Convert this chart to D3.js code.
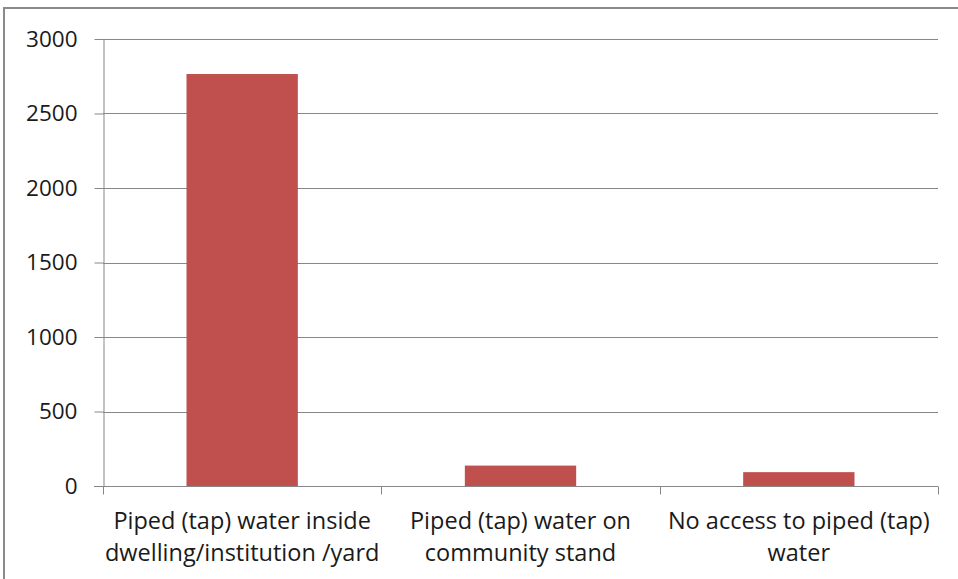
<!DOCTYPE html>
<html><head><meta charset="utf-8">
<script src="https://cdn.jsdelivr.net/npm/d3@7"></script>
<style>body{margin:0;background:#fff;}svg{display:block;}</style>
</head><body>
<svg id="c" width="958" height="579"></svg>
<script>
const categories = [
  ["Piped (tap) water inside", "dwelling/institution /yard"],
  ["Piped (tap) water on", "community stand"],
  ["No access to piped (tap)", "water"]
];
const values = [2765, 137, 93];
const yTicks = [0, 500, 1000, 1500, 2000, 2500, 3000];

const svg = d3.select("#c");
const font = "'Open Sans', 'Noto Sans', sans-serif";
const m = {left: 103, right: 20, top: 39, bottom: 93};
const x = d3.scaleBand().domain(d3.range(categories.length)).range([m.left, 938]).paddingInner(0.6).paddingOuter(0.3);
const y = d3.scaleLinear().domain([0, 3000]).range([486, 39]);

// outer frame
svg.append("path").attr("d", "M4,579 V8 H958").attr("fill", "none").attr("stroke", "#8a8a8a").attr("stroke-width", 2);

// gridlines
svg.append("g").selectAll("line").data(yTicks.filter(d => d > 0)).join("line")
  .attr("x1", m.left).attr("x2", 938).attr("y1", d => Math.round(y(d)) + 0.5).attr("y2", d => Math.round(y(d)) + 0.5)
  .attr("stroke", "#878787").attr("stroke-width", 1);

// bars
svg.append("g").selectAll("rect").data(values).join("rect")
  .attr("x", (d, i) => x(i)).attr("width", x.bandwidth())
  .attr("y", d => y(d)).attr("height", d => y(0) - y(d))
  .attr("fill", "#c0504d");

// y axis
const yAxis = svg.append("g").attr("transform", `translate(${m.left + 0.5},0)`)
  .call(d3.axisLeft(y).tickValues(yTicks).tickFormat(d3.format("d")).tickSize(9).tickPadding(17).tickSizeOuter(0));
yAxis.select(".domain").attr("stroke", "#878787");
yAxis.selectAll(".tick line").attr("stroke", "#878787");
yAxis.selectAll("text").attr("font-family", font).attr("font-size", 22.5).attr("fill", "#1a1a1a");

// x axis
const xOuter = d3.scaleLinear().domain([0, 3]).range([m.left, 938]);
const xAxisG = svg.append("g").attr("transform", `translate(0,${Math.round(y(0)) + 0.5})`);
xAxisG.append("line").attr("x1", 94).attr("x2", 938).attr("stroke", "#878787");
xAxisG.selectAll(".xt").data(d3.range(4)).join("line").attr("class", "xt")
  .attr("x1", d => Math.round(xOuter(d)) + 0.5).attr("x2", d => Math.round(xOuter(d)) + 0.5)
  .attr("y1", 0).attr("y2", 8).attr("stroke", "#878787");

// category labels
const lab = svg.append("g").selectAll("text").data(categories).join("text")
  .attr("x", (d, i) => x(i) + x.bandwidth() / 2).attr("y", 529)
  .attr("text-anchor", "middle").attr("font-family", font).attr("font-size", 23.5).attr("fill", "#1a1a1a");
lab.selectAll("tspan").data(d => d).join("tspan")
  .attr("x", function() { return this.parentNode.getAttribute("x"); })
  .attr("dy", (d, i) => i === 0 ? 0 : 32).text(d => d);
</script>
</body></html>
